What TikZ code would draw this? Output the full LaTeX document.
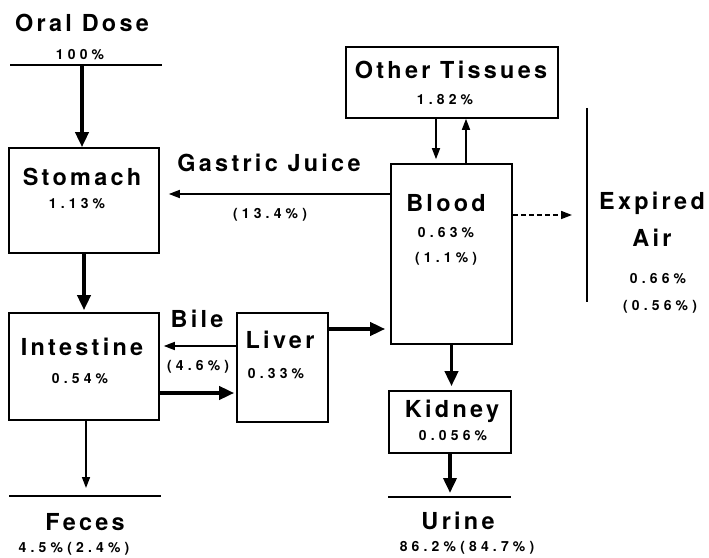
\documentclass[tikz,border=0pt]{standalone}
\usepackage{fontspec}
\setmainfont{TeX Gyre Heros}
\newfontfamily\namefont[LetterSpace=14]{TeX Gyre Heros}
\newfontfamily\amountfont[LetterSpace=30]{TeX Gyre Heros}
\usepackage{tikz}
\usetikzlibrary{arrows.meta,calc,positioning}
\tikzset{%
	box/.style       = {draw, rectangle, line width=1.6bp, inner sep=0pt}, % compartment
	organname/.style = {font=\namefont\bfseries\fontsize{23.5}{26}\selectfont, inner sep=0pt},
	percent/.style   = {font=\amountfont\bfseries\fontsize{14}{16}\selectfont, inner sep=0pt},
	sink/.style      = {line width=1.6bp}, % intake / excretion line
	flow/.style      = {line width=1.6bp, -{Triangle[length=11bp,width=8bp]}},
	mainflow/.style  = {line width=3.6bp, -{Triangle[length=15bp,width=13bp]}},
}

\begin{document}
\begin{tikzpicture}[x=1bp, y=-1bp]
	\useasboundingbox (0,0) rectangle (709,558);
	% compartments
	\node[box, minimum width=212bp, minimum height=71bp] (tissues) at (452,82.5) {};
	\node[box, minimum width=150bp, minimum height=105bp] (stomach) at (84,200.5) {};
	\node[box, minimum width=121bp, minimum height=180bp] (blood) at (451.5,254) {};
	\node[box, minimum width=150bp, minimum height=107bp] (intestine) at (84,366.5) {};
	\node[box, minimum width=91bp, minimum height=109bp] (liver) at (282.5,367.5) {};
	\node[box, minimum width=122bp, minimum height=62bp] (kidney) at (450,422) {};
	% intake and excretion lines
	\coordinate (dose-l) at (10,65);
	\coordinate (dose-r) at (162,65);
	\coordinate (dose) at (82,65);
	\coordinate (feces-l) at (9,496);
	\coordinate (feces-r) at (161,496);
	\coordinate (urine-l) at (388,497);
	\coordinate (urine-r) at (511,497);
	\coordinate (air-t) at (587,108);
	\coordinate (air-b) at (587,302);
	\draw[sink] (dose-l) -- (dose-r);
	\draw[sink] (feces-l) -- (feces-r);
	\draw[sink] (urine-l) -- (urine-r);
	\draw[sink] (air-t) -- (air-b);
	% names and amounts
	\node[organname] (dose-t) at (82,23) {Oral Dose};
	\node[percent] (dose-p) at (80,55) {100\%};
	\node[organname] (stomach-t) at (82,177) {Stomach};
	\node[percent] (stomach-p) at (77,204) {1.13\%};
	\node[organname] (gastric-t) at (269,163) {Gastric Juice};
	\node[percent] (gastric-p) at (270,215) {(13.4\%)};
	\node[organname] (intestine-t) at (82,347) {Intestine};
	\node[percent] (intestine-p) at (80,379) {0.54\%};
	\node[organname] (bile-t) at (197,319) {Bile};
	\node[percent] (bile-p) at (198,367) {(4.6\%)};
	\node[organname] (liver-t) at (280,340) {Liver};
	\node[percent] (liver-p) at (276,374) {0.33\%};
	\node[organname] (feces-t) at (85,522) {Feces};
	\node[percent] (feces-p) at (74,549) {4.5\%(2.4\%)};
	\node[organname] (tissues-t) at (451,70) {Other Tissues};
	\node[percent] (tissues-p) at (445,100) {1.82\%};
	\node[organname] (blood-t) at (446,203) {Blood};
	\node[percent] (blood-p) at (446,233) {0.63\%};
	\node[percent] (blood-q) at (446,259) {(1.1\%)};
	\node[organname] (air-t1) at (652,203) {Expired};
	\node[organname] (air-t2) at (652,238) {Air};
	\node[percent] (air-p) at (658,279) {0.66\%};
	\node[percent] (air-q) at (660,307) {(0.56\%)};
	\node[organname] (kidney-t) at (452,411) {Kidney};
	\node[percent] (kidney-p) at (453,436) {0.056\%};
	\node[organname] (urine-t) at (458,521) {Urine};
	\node[percent] (urine-p) at (467,548) {86.2\%(84.7\%)};
	% transfers
	\draw[mainflow] (dose) -- (dose |- stomach.north);
	\draw[mainflow, shorten >=2bp] (stomach) -- (intestine);
	\draw[flow, shorten >=9bp] ([yshift=60bp]blood.west) -- ([yshift=60bp]blood.west -| stomach.east);
	\draw[flow, shorten >=4bp] ([xshift=-16bp]tissues.south) -- ([xshift=-16bp]tissues.south |- blood.north);
	\draw[flow] ([xshift=14bp]tissues.south |- blood.north) -- ([xshift=14bp]tissues.south);
	\draw[flow, dash pattern=on 5bp off 3bp, shorten >=15bp] ([yshift=39bp]blood.east) -- ([yshift=39bp]blood.east -| air-t);
	\draw[mainflow, shorten >=5bp] ([yshift=38.5bp]liver.east) -- ([yshift=38.5bp]liver.east -| blood.west);
	\draw[flow, shorten >=4bp] ([yshift=21.5bp]liver.west) -- ([yshift=21.5bp]liver.west -| intestine.east);
	\draw[mainflow, shorten >=2bp] ([yshift=-26.5bp]intestine.east) -- ([yshift=-26.5bp]intestine.east -| liver.west);
	\draw[flow, shorten >=8bp] ([xshift=2bp]intestine.south) -- ([xshift=2bp]intestine.south |- feces-l);
	\draw[mainflow, shorten >=4bp] (blood.south) -- (blood.south |- kidney.north);
	\draw[mainflow, shorten >=4bp] (kidney) -- (kidney |- urine-l);
\end{tikzpicture}
\end{document}
